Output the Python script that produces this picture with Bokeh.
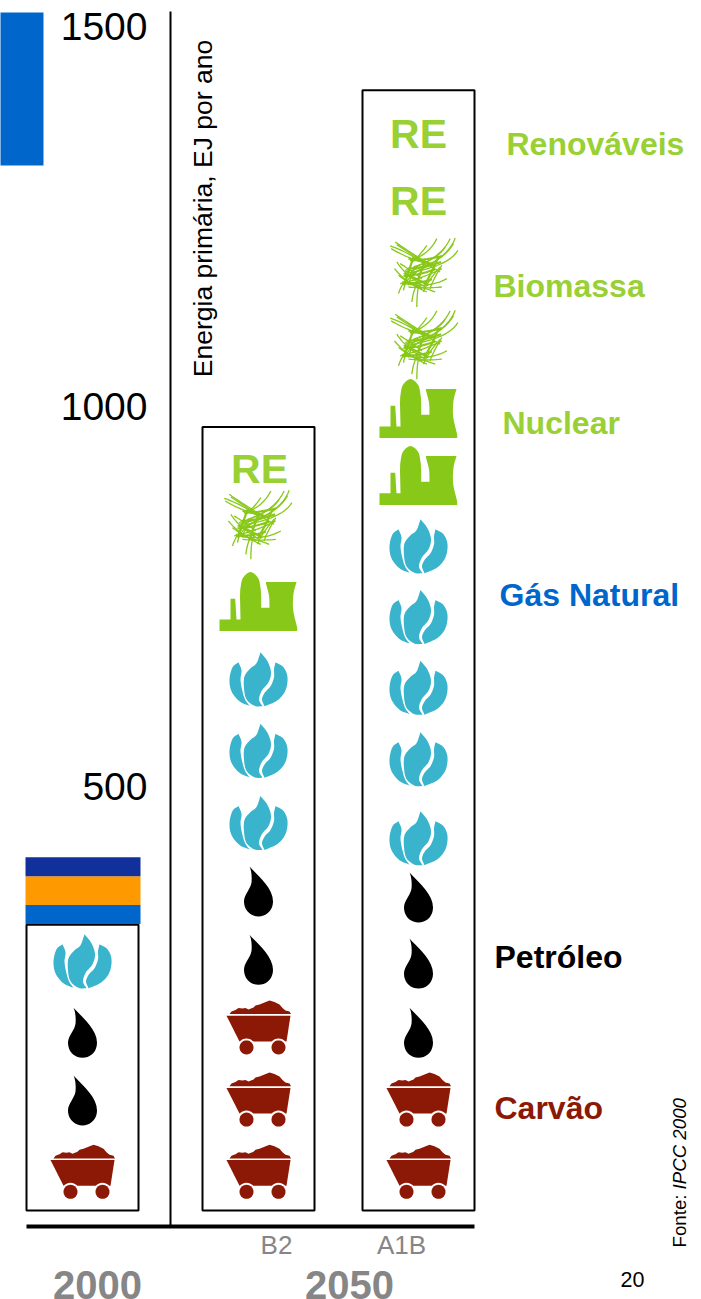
from bokeh.plotting import figure
from bokeh.models import Range1d, FixedTicker
from bokeh.core.properties import value
from bokeh.embed import file_html
from bokeh.resources import INLINE
import numpy as np

# ---------- data (EJ per year) ----------
y_ticks = [500, 1000, 1500]
columns = ["2000", "B2", "A1B"]
box_tops = [318, 973, 1416]
box_floor = -58
axis_floor = -79
axis_top = 1520

coal_2000 = [-7]
oil_2000 = [87, 176]
gas_2000 = [270]
band_edges_2000 = [319, 344, 382, 407]

coal_b2 = [-7, 88, 183]
oil_b2 = [272, 362]
gas_b2 = [452, 547, 641]
nuclear_b2 = [743]
biomass_b2 = [845]
re_b2 = [918]

coal_a1b = [-7, 88]
oil_a1b = [176, 267, 354]
gas_a1b = [432, 536, 630, 723, 816]
nuclear_a1b = [909, 997]
biomass_a1b = [1082, 1177]
re_a1b = [1271, 1358]

legend_names = ["Renováveis", "Biomassa", "Nuclear", "Gás Natural", "Petróleo", "Carvão"]
legend_levels = [1345, 1158, 978, 752, 276, 77]

# ---------- layout and style ----------
W, H = 701, 1299
PX = 0.76                 # px per EJ
Y0 = 1166                 # window row of zero
FONT = value("Liberation Sans")
col_x = {"2000": 82, "B2": 258, "A1B": 418}
box_half = 56
legend_x = [506, 493, 502, 499, 494, 494]
C_RED, C_GREEN, C_TEXTGREEN = "#8c1806", "#88c818", "#99d033"
C_TEAL, C_BLUE, C_ORANGE, C_NAVY, C_GRAY = "#3ab4cc", "#0066cc", "#ff9900", "#11309b", "#868686"
legend_colors = [C_TEXTGREEN, C_TEXTGREEN, C_TEXTGREEN, C_BLUE, "#000000", C_RED]


def val(row):
    return (Y0 - row) / PX


def bez(p0, c1, c2, p1, n=10):
    t = np.linspace(0, 1, n)[:, None]
    p0, c1, c2, p1 = map(np.array, (p0, c1, c2, p1))
    return (1-t)**3*p0 + 3*(1-t)**2*t*c1 + 3*(1-t)*t**2*c2 + t**3*p1


def smooth(points, n=8):
    """Catmull-Rom run through the outline points of an icon."""
    pts = np.array(points, dtype=float)
    ext = np.vstack([2*pts[0]-pts[1], pts, 2*pts[-1]-pts[-2]])
    out = []
    for i in range(1, len(ext)-2):
        a, b, c, d = ext[i-1], ext[i], ext[i+1], ext[i+2]
        out.append(bez(b, b+(c-a)/6, c-(d-b)/6, c, n))
    return np.vstack(out)


def outline(*runs):
    return np.vstack([smooth(r) if len(r) > 2 else np.array(r, dtype=float) for r in runs])


def circle(cx, cy, r, n=28):
    a = np.linspace(0, 2*np.pi, n, endpoint=False)
    return np.column_stack([cx + r*np.cos(a), cy + r*np.sin(a)])


DROP = np.vstack([
    bez((-9, -25), (-2, -17), (14.5, -4), (14.5, 10)),
    bez((14.5, 10), (14.5, 19), (8, 25), (0, 25)),
    bez((0, 25), (-8, 25), (-14.5, 19), (-14.5, 10)),
    bez((-14.5, 10), (-14.5, 3), (-8, -2), (-7, -9)),
    bez((-7, -9), (-6.5, -14), (-7, -21), (-9, -25)),
])
FLAME = [
    outline([(-20, -17), (-26, -12), (-29, 0), (-27, 12), (-19, 22), (-9, 26.5)],
            [(-9, 26.5), (-13.5, 20), (-16.5, 10), (-18, 0), (-17, -9), (-20, -17)]),
    outline([(2, -27), (9, -18), (12.5, -7), (10, 3), (3.5, 11), (0.5, 20), (4, 27)],
            [(4, 27), (-4, 26.5), (-12, 20), (-14.5, 9), (-14, -3), (-8, -11), (-2, -16), (2, -27)]),
    outline([(17, -17), (25, -12), (29, -2), (27, 11), (19, 21), (6, 27)],
            [(6, 27), (3.5, 20), (6.5, 13), (12, 7), (15.5, -2), (15.5, -10), (17, -17)]),
]
WAGON_BODY = np.array([(-32, -11.7), (32, -11.7), (28, 14), (-19, 14)], dtype=float)
WAGON_PILE = np.array([(-29, -13.3), (-27, -16), (-23, -17.5), (-20, -19.5), (-16, -19), (-13, -19.5), (-10, -18),
                       (-5, -20), (-3, -22), (1, -23), (6, -25), (11, -27), (16, -25.5), (21, -23), (24, -19.5),
                       (27, -17), (31, -16), (32.5, -13.3)], dtype=float)
WAGON_RING = [circle(-12, 20, 9), circle(20, 20, 9)]
WAGON_WHEEL = [circle(-12, 20, 7), circle(20, 20, 7)]
NUCLEAR = outline(
    [(-39, 29.3), (-39, 17.7)], [(-28, 17.7), (-28, -3)], [(-23.3, -3), (-22, 17.7)], [(-18, 17.7), (-18.5, -5)],
    [(-18.5, -5), (-18, -14), (-15.5, -24), (-8, -29.7), (-0.5, -24), (2, -14), (2.7, -5)],
    [(2.7, -5), (2.7, 6)], [(2.7, 6), (11, 6)],
    [(11, 6), (10.5, -6), (7.3, -19)], [(7.7, -19.7), (38, -19.7)],
    [(38, -19.7), (35, -8), (34.7, 8), (38.7, 26)], [(38.7, 26), (38.7, 29.3)],
)
GRASS = [
    [(15, 42), (70, 60), (130, 105)], [(30, 30), (80, 65), (140, 100)], [(18, 50), (60, 75), (110, 90)],
    [(35, 38), (90, 75), (165, 120)], [(155, 20), (130, 70), (75, 85)], [(125, 40), (105, 70), (80, 90)],
    [(195, 20), (165, 85), (60, 115)], [(210, 18), (190, 80), (70, 130)], [(218, 55), (190, 105), (55, 125)],
    [(180, 45), (160, 80), (85, 105)], [(205, 35), (170, 95), (60, 120)], [(35, 90), (60, 130), (120, 165)],
    [(28, 110), (60, 150), (110, 170)], [(45, 95), (70, 110), (110, 140)], [(40, 130), (80, 160), (125, 180)],
    [(170, 110), (110, 140), (45, 155)], [(185, 140), (130, 170), (60, 155)], [(170, 165), (120, 170), (70, 165)],
    [(150, 180), (110, 165), (55, 150)], [(40, 185), (50, 150), (90, 110)], [(55, 175), (60, 140), (100, 115)],
    [(70, 160), (75, 125), (110, 110)], [(95, 225), (95, 170), (105, 150)], [(80, 210), (85, 170), (100, 150)],
    [(115, 180), (125, 150), (165, 105)], [(135, 170), (140, 150), (170, 100)],
]
GRASS_CORE = [
    [(75, 85), (120, 85), (170, 72)], [(68, 110), (115, 108), (168, 90)],
    [(55, 132), (100, 130), (150, 112)], [(50, 152), (95, 158), (140, 142)],
    [(85, 75), (72, 115), (55, 160)], [(120, 85), (105, 125), (90, 168)],
    [(160, 75), (140, 120), (118, 160)], [(70, 80), (110, 85), (150, 100)],
    [(58, 125), (95, 140), (130, 160)],
]


def grass_line(s):
    t = np.linspace(0, 1, 12)[:, None]
    a, b, c = map(np.array, s)
    q = (1-t)**2*a + 2*(1-t)*t*b + t**2*c
    return (q - np.array([118, 120])) / 3


GRASS_LINES = [grass_line(s) for s in GRASS]
GRASS_CORE_LINES = [grass_line(s) for s in GRASS_CORE]

p = figure(width=W, height=H, output_backend="svg", toolbar_location=None,
           x_range=Range1d(0, W), y_range=Range1d(val(H), val(0)),
           x_axis_type=None, min_border=0, outline_line_color=None,
           background_fill_color="white", border_fill_color="white")
p.margin = (0, 0, 0, 0)
p.grid.visible = False

# vertical axis with its real scale
ax = p.yaxis[0]
ax.fixed_location = 170
ax.ticker = FixedTicker(ticks=y_ticks)
ax.bounds = (axis_floor, axis_top)
ax.axis_line_width = 2
ax.axis_line_color = "#000000"
ax.major_tick_line_color = None
ax.minor_tick_line_color = None
ax.major_label_text_font = "Liberation Sans"
ax.major_label_text_font_size = "39px"
ax.major_label_text_color = "#000000"
ax.major_label_standoff = 17

# corner block, baseline
p.quad(left=[-2], right=[43], bottom=[val(165)], top=[val(12)], fill_color=C_BLUE, line_color=None)
p.segment(x0=[26], x1=[474], y0=[axis_floor], y1=[axis_floor], line_color="#000000", line_width=4)

# column frames
p.quad(left=[col_x[c]-box_half for c in columns], right=[col_x[c]+box_half for c in columns],
       bottom=[box_floor]*3, top=box_tops, fill_color=None, line_color="#000000", line_width=2)

# coloured bands at the top of the 2000 column
p.quad(left=[25]*3, right=[140]*3, bottom=band_edges_2000[:3], top=band_edges_2000[1:],
       fill_color=[C_BLUE, C_ORANGE, C_NAVY], line_color=None)


def add_shapes(shapes, color):
    p.patches(xs=[list(s[0]) for s in shapes], ys=[list(s[1]) for s in shapes],
              fill_color=color, line_color=None)


def place(shape, cx, level):
    return cx + shape[:, 0], level - shape[:, 1] / PX


def draw_coal(cx, levels):
    add_shapes([place(s, cx, v) for v in levels for s in (WAGON_BODY, WAGON_PILE)], C_RED)
    add_shapes([place(s, cx, v) for v in levels for s in WAGON_RING], "#ffffff")
    add_shapes([place(s, cx, v) for v in levels for s in WAGON_WHEEL], C_RED)


def draw_oil(cx, levels):
    add_shapes([place(DROP, cx, v) for v in levels], "#000000")


def draw_gas(cx, levels):
    add_shapes([place(s, cx, v) for v in levels for s in FLAME], C_TEAL)


def draw_nuclear(cx, levels):
    add_shapes([place(NUCLEAR, cx, v) for v in levels], C_GREEN)


def draw_biomass(cx, levels):
    for lines, width in ((GRASS_LINES, 1.3), (GRASS_CORE_LINES, 2.2)):
        xs, ys = [], []
        for v in levels:
            for g in lines:
                a, b = place(g, cx, v)
                xs.append(list(a))
                ys.append(list(b))
        p.multi_line(xs=xs, ys=ys, line_color=C_GREEN, line_width=width)


def draw_re(cx, levels):
    p.text(x=[cx]*len(levels), y=levels, text=["RE"]*len(levels), text_font=FONT, text_font_style="bold",
           text_font_size="41px", text_color=C_TEXTGREEN, text_align="center", text_baseline="middle")


draw_coal(col_x["2000"], coal_2000)
draw_oil(col_x["2000"], oil_2000)
draw_gas(col_x["2000"], gas_2000)

draw_coal(col_x["B2"], coal_b2)
draw_oil(col_x["B2"], oil_b2)
draw_gas(col_x["B2"], gas_b2)
draw_nuclear(col_x["B2"], nuclear_b2)
draw_biomass(col_x["B2"], biomass_b2)
draw_re(col_x["B2"] + 1, re_b2)

draw_coal(col_x["A1B"], coal_a1b)
draw_oil(col_x["A1B"], oil_a1b)
draw_gas(col_x["A1B"], gas_a1b)
draw_nuclear(col_x["A1B"], nuclear_a1b)
draw_biomass(col_x["A1B"] + 6, biomass_a1b)
draw_re(col_x["A1B"], re_a1b)

# legend words
p.text(x=legend_x, y=legend_levels, text=legend_names, text_font=FONT, text_font_style="bold",
       text_font_size="32px", text_color=legend_colors, text_align="left", text_baseline="middle")


def label(x, row, text, size, color="#000000", style="normal", align="center", angle=0.0):
    p.text(x=[x], y=[val(row)], text=[text], text_font=FONT, text_font_size=size, text_color=color,
           text_font_style=style, text_align=align, text_baseline="middle", angle=angle)


label(202, 208, "Energia primária, EJ por ano", "26.5px", angle=np.pi/2)
label(276, 1244, "B2", "26px", C_GRAY)
label(401, 1244, "A1B", "26px", C_GRAY)
label(97, 1284, "2000", "40px", C_GRAY, "bold")
label(349, 1284, "2050", "40px", C_GRAY, "bold")
label(632, 1279, "20", "21.5px")
label(679, 1247, "Fonte: ", "18.7px", align="left", angle=np.pi/2)
label(679, 1189, "IPCC 2000", "18.7px", style="italic", align="left", angle=np.pi/2)

open("out.html", "w").write(file_html(p, INLINE))
